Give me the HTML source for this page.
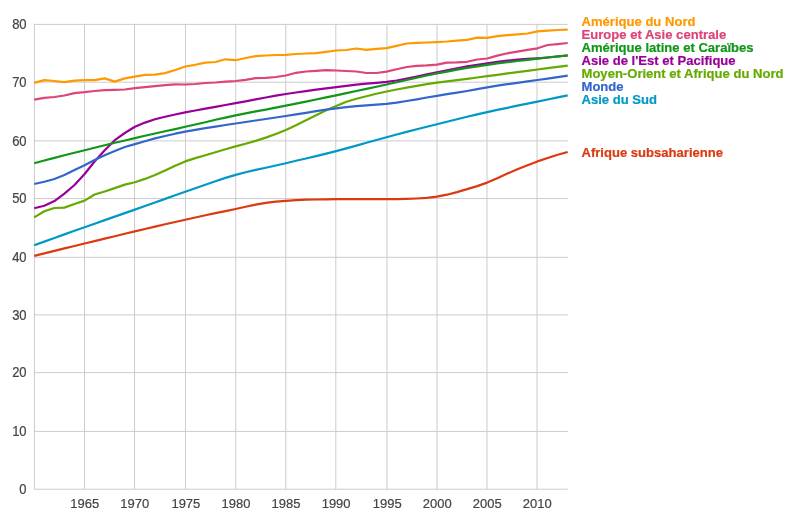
<!DOCTYPE html>
<html><head><meta charset="utf-8"><style>
html,body{margin:0;padding:0;background:#fff;}
svg{display:block;will-change:transform;}
text{font-family:"Liberation Sans",sans-serif;font-size:13px;}
</style></head><body>
<svg width="800" height="516" viewBox="0 0 800 516">
<rect width="800" height="516" fill="#fff"/>
<g><rect x="84.0" y="23.9" width="1" height="465.7" fill="#cccccc"/><rect x="134.0" y="23.9" width="1" height="465.7" fill="#cccccc"/><rect x="185.05" y="23.9" width="1" height="465.7" fill="#cccccc"/><rect x="235.2" y="23.9" width="1" height="465.7" fill="#cccccc"/><rect x="285.25" y="23.9" width="1" height="465.7" fill="#cccccc"/><rect x="335.3" y="23.9" width="1" height="465.7" fill="#cccccc"/><rect x="386.5" y="23.9" width="1" height="465.7" fill="#cccccc"/><rect x="436.5" y="23.9" width="1" height="465.7" fill="#cccccc"/><rect x="486.5" y="23.9" width="1" height="465.7" fill="#cccccc"/><rect x="536.5" y="23.9" width="1" height="465.7" fill="#cccccc"/><rect x="33.9" y="23.9" width="533.9" height="1" fill="#cccccc"/><rect x="33.9" y="81.7" width="533.9" height="1" fill="#cccccc"/><rect x="33.9" y="140.4" width="533.9" height="1" fill="#cccccc"/><rect x="33.9" y="198.05" width="533.9" height="1" fill="#cccccc"/><rect x="33.9" y="256.8" width="533.9" height="1" fill="#cccccc"/><rect x="33.9" y="314.35" width="533.9" height="1" fill="#cccccc"/><rect x="33.9" y="372.1" width="533.9" height="1" fill="#cccccc"/><rect x="33.9" y="430.9" width="533.9" height="1" fill="#cccccc"/><rect x="33.95" y="23.9" width="1" height="465.7" fill="#cccccc"/><rect x="33.9" y="488.7" width="533.9" height="1" fill="#cccccc"/></g>
<g fill="none" stroke-width="2.2" stroke-linejoin="round" stroke-linecap="butt">
<path d="M34.2,217.4 L44.3,211.3 L54.4,208.0 L64.4,207.6 L74.5,204.0 L84.6,200.6 L94.6,194.5 L104.7,191.5 L114.8,188.1 L124.8,184.6 L134.9,182.2 L145.0,178.9 L155.0,175.0 L165.1,170.5 L175.2,165.7 L185.2,161.4 L195.3,158.1 L205.4,155.2 L215.4,152.3 L225.5,149.3 L235.6,146.4 L245.6,143.7 L255.7,140.9 L265.8,137.6 L275.8,134.0 L285.9,130.0 L296.0,125.3 L306.0,120.3 L316.1,115.2 L326.2,110.3 L336.2,106.0 L346.3,101.7 L356.4,98.8 L366.4,96.3 L376.5,93.8 L386.6,91.5 L396.6,89.5 L406.7,87.6 L416.8,85.8 L426.8,84.2 L436.9,82.7 L447.0,81.4 L457.0,80.2 L467.1,78.9 L477.2,77.5 L487.2,76.1 L497.3,74.8 L507.4,73.4 L517.4,72.1 L527.5,70.8 L537.5,69.5 L547.6,68.2 L557.7,66.9 L567.7,65.6" stroke="#66aa00"/>
<path d="M34.2,99.6 L44.3,97.8 L54.4,97.0 L64.4,95.5 L74.5,93.1 L84.6,92.2 L94.6,91.0 L104.7,90.2 L114.8,89.8 L124.8,89.5 L134.9,88.2 L145.0,87.1 L155.0,86.1 L165.1,85.2 L175.2,84.4 L185.2,84.5 L195.3,84.0 L205.4,83.0 L215.4,82.5 L225.5,81.7 L235.6,81.0 L245.6,79.8 L255.7,78.2 L265.8,77.8 L275.8,77.0 L285.9,75.5 L296.0,72.8 L306.0,71.5 L316.1,70.8 L326.2,70.2 L336.2,70.5 L346.3,71.0 L356.4,71.5 L366.4,73.0 L376.5,73.0 L386.6,71.6 L396.6,69.2 L406.7,67.0 L416.8,65.8 L426.8,65.4 L436.9,64.6 L447.0,62.6 L457.0,62.4 L467.1,61.8 L477.2,59.5 L487.2,58.5 L497.3,55.6 L507.4,53.3 L517.4,51.6 L527.5,49.9 L537.5,48.3 L547.6,45.0 L557.7,44.1 L567.7,43.0" stroke="#dd4477"/>
<path d="M34.2,245.2 L44.3,241.6 L54.4,238.0 L64.4,234.4 L74.5,230.8 L84.6,227.2 L94.6,223.7 L104.7,220.1 L114.8,216.6 L124.8,213.1 L134.9,209.6 L145.0,206.0 L155.0,202.5 L165.1,198.9 L175.2,195.3 L185.2,191.8 L195.3,188.3 L205.4,184.7 L215.4,181.2 L225.5,177.9 L235.6,174.9 L245.6,172.3 L255.7,169.9 L265.8,167.7 L275.8,165.5 L285.9,163.2 L296.0,160.8 L306.0,158.5 L316.1,156.1 L326.2,153.6 L336.2,151.1 L346.3,148.4 L356.4,145.6 L366.4,142.8 L376.5,140.0 L386.6,137.2 L396.6,134.5 L406.7,131.9 L416.8,129.3 L426.8,126.7 L436.9,124.2 L447.0,121.7 L457.0,119.2 L467.1,116.8 L477.2,114.4 L487.2,112.1 L497.3,109.9 L507.4,107.8 L517.4,105.7 L527.5,103.7 L537.5,101.6 L547.6,99.5 L557.7,97.4 L567.7,95.3" stroke="#0099c6"/>
<path d="M34.2,208.2 L44.3,205.7 L54.4,201.1 L64.4,193.6 L74.5,185.0 L84.6,174.0 L94.6,161.5 L104.7,150.2 L114.8,140.2 L124.8,133.0 L134.9,126.8 L145.0,122.6 L155.0,119.3 L165.1,116.7 L175.2,114.5 L185.2,112.4 L195.3,110.5 L205.4,108.6 L215.4,106.8 L225.5,105.0 L235.6,103.2 L245.6,101.3 L255.7,99.4 L265.8,97.5 L275.8,95.7 L285.9,94.0 L296.0,92.5 L306.0,91.1 L316.1,89.7 L326.2,88.4 L336.2,87.1 L346.3,85.8 L356.4,84.6 L366.4,83.7 L376.5,82.9 L386.6,81.9 L396.6,80.5 L406.7,78.6 L416.8,76.6 L426.8,74.4 L436.9,72.4 L447.0,70.4 L457.0,68.3 L467.1,66.4 L477.2,64.8 L487.2,63.3 L497.3,61.9 L507.4,60.6 L517.4,59.6 L527.5,58.9 L537.5,58.3 L547.6,57.5 L557.7,56.5 L567.7,55.5" stroke="#990099"/>
<path d="M34.2,163.2 L44.3,160.5 L54.4,157.9 L64.4,155.3 L74.5,152.7 L84.6,150.2 L94.6,147.7 L104.7,145.3 L114.8,142.8 L124.8,140.5 L134.9,138.1 L145.0,135.8 L155.0,133.5 L165.1,131.3 L175.2,129.1 L185.2,126.8 L195.3,124.5 L205.4,122.2 L215.4,119.8 L225.5,117.6 L235.6,115.4 L245.6,113.4 L255.7,111.4 L265.8,109.6 L275.8,107.7 L285.9,105.7 L296.0,103.7 L306.0,101.6 L316.1,99.5 L326.2,97.4 L336.2,95.3 L346.3,93.2 L356.4,91.0 L366.4,88.9 L376.5,86.7 L386.6,84.5 L396.6,82.3 L406.7,80.0 L416.8,77.7 L426.8,75.5 L436.9,73.5 L447.0,71.6 L457.0,69.7 L467.1,68.0 L477.2,66.3 L487.2,64.8 L497.3,63.4 L507.4,62.2 L517.4,61.0 L527.5,59.9 L537.5,58.7 L547.6,57.5 L557.7,56.4 L567.7,55.3" stroke="#109618"/>
<path d="M34.2,82.9 L44.3,80.1 L54.4,81.0 L64.4,82.1 L74.5,80.6 L84.6,80.1 L94.6,80.1 L104.7,78.4 L114.8,81.6 L124.8,78.4 L134.9,76.6 L145.0,74.8 L155.0,74.6 L165.1,73.1 L175.2,70.0 L185.2,66.5 L195.3,64.8 L205.4,62.6 L215.4,62.0 L225.5,59.3 L235.6,60.2 L245.6,58.0 L255.7,56.2 L265.8,55.5 L275.8,55.0 L285.9,54.8 L296.0,54.0 L306.0,53.5 L316.1,53.2 L326.2,51.8 L336.2,50.5 L346.3,50.0 L356.4,48.5 L366.4,49.8 L376.5,48.8 L386.6,48.1 L396.6,45.9 L406.7,43.5 L416.8,42.8 L426.8,42.5 L436.9,42.1 L447.0,41.5 L457.0,40.6 L467.1,39.9 L477.2,37.6 L487.2,37.9 L497.3,36.2 L507.4,35.1 L517.4,34.4 L527.5,33.5 L537.5,31.4 L547.6,30.6 L557.7,30.0 L567.7,29.6" stroke="#ff9900"/>
<path d="M34.2,255.9 L44.3,253.4 L54.4,250.9 L64.4,248.4 L74.5,246.0 L84.6,243.5 L94.6,241.1 L104.7,238.6 L114.8,236.2 L124.8,233.8 L134.9,231.4 L145.0,229.0 L155.0,226.6 L165.1,224.3 L175.2,222.0 L185.2,219.7 L195.3,217.5 L205.4,215.3 L215.4,213.2 L225.5,211.1 L235.6,209.0 L245.6,206.8 L255.7,204.6 L265.8,202.9 L275.8,201.7 L285.9,200.8 L296.0,200.1 L306.0,199.7 L316.1,199.5 L326.2,199.3 L336.2,199.2 L346.3,199.2 L356.4,199.2 L366.4,199.2 L376.5,199.2 L386.6,199.2 L396.6,199.1 L406.7,198.9 L416.8,198.5 L426.8,197.9 L436.9,196.6 L447.0,194.7 L457.0,192.1 L467.1,189.1 L477.2,186.1 L487.2,182.6 L497.3,178.2 L507.4,173.6 L517.4,169.3 L527.5,165.3 L537.5,161.4 L547.6,158.0 L557.7,154.8 L567.7,152.0" stroke="#dc3912"/>
<path d="M34.2,184.0 L44.3,181.7 L54.4,179.0 L64.4,175.1 L74.5,170.0 L84.6,165.3 L94.6,160.0 L104.7,155.2 L114.8,151.1 L124.8,147.0 L134.9,144.1 L145.0,141.2 L155.0,138.4 L165.1,136.0 L175.2,133.7 L185.2,131.7 L195.3,129.9 L205.4,128.2 L215.4,126.6 L225.5,125.0 L235.6,123.5 L245.6,122.0 L255.7,120.5 L265.8,119.0 L275.8,117.5 L285.9,116.0 L296.0,114.4 L306.0,112.8 L316.1,111.2 L326.2,109.7 L336.2,108.4 L346.3,107.2 L356.4,106.2 L366.4,105.4 L376.5,104.7 L386.6,103.8 L396.6,102.6 L406.7,101.0 L416.8,99.3 L426.8,97.5 L436.9,95.8 L447.0,94.2 L457.0,92.7 L467.1,91.0 L477.2,89.1 L487.2,87.3 L497.3,85.7 L507.4,84.2 L517.4,82.8 L527.5,81.4 L537.5,80.0 L547.6,78.6 L557.7,77.1 L567.7,75.7" stroke="#3366cc"/>
</g>
<g fill="#444444" stroke="#444444" stroke-width="0.2"><text transform="translate(26.6,29.0) scale(1,1.1)" text-anchor="end">80</text><text transform="translate(26.6,86.8) scale(1,1.1)" text-anchor="end">70</text><text transform="translate(26.6,145.6) scale(1,1.1)" text-anchor="end">60</text><text transform="translate(26.6,203.2) scale(1,1.1)" text-anchor="end">50</text><text transform="translate(26.6,262.0) scale(1,1.1)" text-anchor="end">40</text><text transform="translate(26.6,319.5) scale(1,1.1)" text-anchor="end">30</text><text transform="translate(26.6,377.3) scale(1,1.1)" text-anchor="end">20</text><text transform="translate(26.6,436.1) scale(1,1.1)" text-anchor="end">10</text><text transform="translate(26.6,493.9) scale(1,1.1)" text-anchor="end">0</text><text transform="translate(84.8,508.3) scale(1.0,1.04)" text-anchor="middle">1965</text><text transform="translate(134.8,508.3) scale(1.0,1.04)" text-anchor="middle">1970</text><text transform="translate(185.85000000000002,508.3) scale(1.0,1.04)" text-anchor="middle">1975</text><text transform="translate(236.0,508.3) scale(1.0,1.04)" text-anchor="middle">1980</text><text transform="translate(286.05,508.3) scale(1.0,1.04)" text-anchor="middle">1985</text><text transform="translate(336.1,508.3) scale(1.0,1.04)" text-anchor="middle">1990</text><text transform="translate(387.3,508.3) scale(1.0,1.04)" text-anchor="middle">1995</text><text transform="translate(437.3,508.3) scale(1.0,1.04)" text-anchor="middle">2000</text><text transform="translate(487.3,508.3) scale(1.0,1.04)" text-anchor="middle">2005</text><text transform="translate(537.3,508.3) scale(1.0,1.04)" text-anchor="middle">2010</text></g>
<g font-weight="bold"><text transform="translate(581.5,25.95) scale(1.005,1.05)" fill="#ff9900" stroke="#ff9900" stroke-width="0.2">Amérique du Nord</text><text transform="translate(581.5,39.150000000000006) scale(1.005,1.05)" fill="#dd4477" stroke="#dd4477" stroke-width="0.2">Europe et Asie centrale</text><text transform="translate(581.5,52.150000000000006) scale(1.005,1.05)" fill="#109618" stroke="#109618" stroke-width="0.2">Amérique latine et Caraïbes</text><text transform="translate(581.5,65.15) scale(1.005,1.05)" fill="#990099" stroke="#990099" stroke-width="0.2">Asie de l'Est et Pacifique</text><text transform="translate(581.5,78.35000000000001) scale(1.005,1.05)" fill="#66aa00" stroke="#66aa00" stroke-width="0.2">Moyen-Orient et Afrique du Nord</text><text transform="translate(581.5,90.95) scale(1.005,1.05)" fill="#3366cc" stroke="#3366cc" stroke-width="0.2">Monde</text><text transform="translate(581.5,104.05) scale(1.005,1.05)" fill="#0099c6" stroke="#0099c6" stroke-width="0.2">Asie du Sud</text><text transform="translate(581.5,156.85) scale(1.005,1.05)" fill="#dc3912" stroke="#dc3912" stroke-width="0.2">Afrique subsaharienne</text></g>
</svg>
</body></html>
